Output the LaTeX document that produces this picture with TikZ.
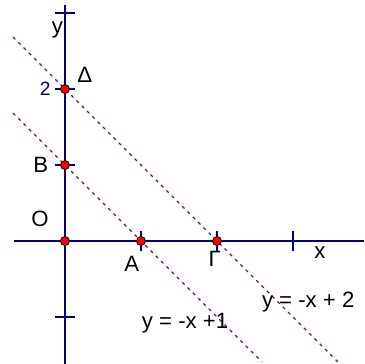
\documentclass[tikz,border=0pt]{standalone}
\usepackage{fontspec}
\setmainfont{Liberation Sans}
\usetikzlibrary{positioning}
\definecolor{axisblue}{RGB}{0,0,128}
\definecolor{linepurple}{RGB}{128,0,128}

\begin{document}
\begin{tikzpicture}[
  pt/.style={draw=black,circle,fill=red,inner sep=0pt,minimum size=3.4pt,line width=0.3pt},
  ax/.style={draw=axisblue,line width=0.75pt},
  dline/.style={draw=linepurple,line width=0.45pt,dash pattern=on 1.2pt off 1.6pt},
  lbl/.style={inner sep=0pt,font=\fontsize{8.3}{10}\selectfont}]
\useasboundingbox (-0.855,-1.618) rectangle (3.934,3.171);
\coordinate (xl) at (-0.67,0);
\coordinate (xr) at (3.934,0);
\coordinate (yt) at (0,3.105);
\coordinate (yb) at (0,-1.618);
\draw[ax] (xl) -- (xr);
\draw[ax] (yb) -- (yt);
\draw[ax] (1,-0.13) -- (1,0.13);
\draw[ax] (2,-0.13) -- (2,0.13);
\draw[ax] (3,-0.13) -- (3,0.13);
\draw[ax] (-0.13,1) -- (0.13,1);
\draw[ax] (-0.13,2) -- (0.13,2);
\draw[ax] (-0.13,3) -- (0.13,3);
\draw[ax] (-0.13,-1) -- (0.13,-1);
\coordinate (l1s) at (-0.684,1.684);
\coordinate (l1e) at (2.59,-1.59);
\coordinate (l2s) at (-0.684,2.684);
\coordinate (l2e) at (3.59,-1.59);
\draw[dline] (l1s) -- (l1e);
\draw[dline] (l2s) -- (l2e);
\node[pt] (O) at (0,0) {};
\node[pt] (A) at (1,0) {};
\node[pt] (G) at (2,0) {};
\node[pt] (B) at (0,1) {};
\node[pt] (D) at (0,2) {};
\node[lbl] (Ol) at (-0.33,0.29) {O};
\node[lbl] (Al) at (0.88,-0.30) {A};
\node[lbl] (Gl) at (1.97,-0.24) {Γ};
\node[lbl] (Bl) at (-0.32,1.0) {B};
\node[lbl] (Dl) at (0.26,2.19) {Δ};
\node[inner sep=0pt,text=axisblue,font=\fontsize{7.2}{8}\selectfont] (two) at (-0.26,2.0) {2};
\node[lbl] (yl) at (-0.1,2.78) {y};
\node[lbl] (xlab) at (3.355,-0.15) {x};
\node[lbl] (eq2) at (3.2,-0.8) {y = -x + 2};
\node[lbl] (eq1) at (1.58,-1.08) {y = -x +1};
\end{tikzpicture}
\end{document}
